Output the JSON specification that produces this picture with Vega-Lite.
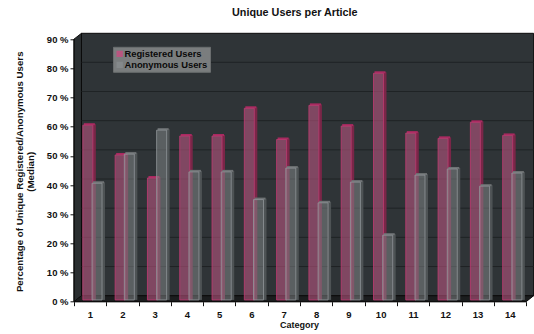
{
  "$schema": "https://vega.github.io/schema/vega-lite/v6.json",
  "width": 459.6,
  "height": 268.4,
  "autosize": "none",
  "padding": {"left": 74, "top": 33.3, "right": 0.4, "bottom": 32.3},
  "background": "white",
  "title": {"text": "Unique Users per Article", "font": "Liberation Sans", "fontSize": 10.8, "fontWeight": "bold", "color": "#111111", "anchor": "middle", "dx": -9, "offset": 14},
  "config": {"view": {"stroke": null}},
  "datasets": {
    "users": [
      {"category": 1, "series": "Registered Users", "value": 60.5},
      {"category": 2, "series": "Registered Users", "value": 50.3},
      {"category": 3, "series": "Registered Users", "value": 42.4},
      {"category": 4, "series": "Registered Users", "value": 56.8},
      {"category": 5, "series": "Registered Users", "value": 56.8},
      {"category": 6, "series": "Registered Users", "value": 66.3},
      {"category": 7, "series": "Registered Users", "value": 55.6},
      {"category": 8, "series": "Registered Users", "value": 67.3},
      {"category": 9, "series": "Registered Users", "value": 60.2},
      {"category": 10, "series": "Registered Users", "value": 78.3},
      {"category": 11, "series": "Registered Users", "value": 57.8},
      {"category": 12, "series": "Registered Users", "value": 56},
      {"category": 13, "series": "Registered Users", "value": 61.5},
      {"category": 14, "series": "Registered Users", "value": 57},
      {"category": 1, "series": "Anonymous Users", "value": 40.6},
      {"category": 2, "series": "Anonymous Users", "value": 50.6},
      {"category": 3, "series": "Anonymous Users", "value": 58.8},
      {"category": 4, "series": "Anonymous Users", "value": 44.5},
      {"category": 5, "series": "Anonymous Users", "value": 44.5},
      {"category": 6, "series": "Anonymous Users", "value": 35},
      {"category": 7, "series": "Anonymous Users", "value": 45.8},
      {"category": 8, "series": "Anonymous Users", "value": 33.9},
      {"category": 9, "series": "Anonymous Users", "value": 41},
      {"category": 10, "series": "Anonymous Users", "value": 22.8},
      {"category": 11, "series": "Anonymous Users", "value": 43.4},
      {"category": 12, "series": "Anonymous Users", "value": 45.5},
      {"category": 13, "series": "Anonymous Users", "value": 39.6},
      {"category": 14, "series": "Anonymous Users", "value": 44.1}
    ],
    "grid": [
      {"v": 10, "back": 12.05, "a": 0.5, "b": 0.732, "c": 14.732},
      {"v": 20, "back": 22.05, "a": 0.5, "b": 0.732, "c": 14.732},
      {"v": 30, "back": 32.05, "a": 0.5, "b": 0.732, "c": 14.732},
      {"v": 40, "back": 42.05, "a": 0.5, "b": 0.732, "c": 14.732},
      {"v": 50, "back": 52.05, "a": 0.5, "b": 0.732, "c": 14.732},
      {"v": 60, "back": 62.05, "a": 0.5, "b": 0.732, "c": 14.732},
      {"v": 70, "back": 72.05, "a": 0.5, "b": 0.732, "c": 14.732},
      {"v": 80, "back": 82.05, "a": 0.5, "b": 0.732, "c": 14.732}
    ]
  },
  "encoding": {
    "x": {
      "type": "quantitative",
      "scale": {"domain": [0.5, 14.732], "nice": false, "zero": false, "padding": 0},
      "axis": {
        "values": [0.5, 1.5, 2.5, 3.5, 4.5, 5.5, 6.5, 7.5, 8.5, 9.5, 10.5, 11.5, 12.5, 13.5, 14.5],
        "labelExpr": "datum.value < 14 ? toString(datum.value + 0.5) : ''",
        "labelOffset": 16,
        "labelOverlap": false,
        "labelFlush": false,
        "labelFont": "Liberation Sans",
        "labelFontSize": 9.5,
        "labelFontWeight": "bold",
        "labelColor": "#111111",
        "labelPadding": 4,
        "tickColor": "#111111",
        "tickSize": 4,
        "domain": false,
        "grid": false,
        "title": "Category",
        "titleFont": "Liberation Sans",
        "titleFontSize": 9,
        "titleFontWeight": "bold",
        "titleColor": "#111111",
        "titleX": 225,
        "titleY": 23,
        "titleBaseline": "middle"
      }
    },
    "y": {
      "type": "quantitative",
      "scale": {"domain": [0, 92], "nice": false, "zero": false},
      "axis": {
        "values": [0, 10, 20, 30, 40, 50, 60, 70, 80, 90],
        "labelExpr": "datum.value + ' %'",
        "labelOverlap": false,
        "labelFont": "Liberation Sans",
        "labelFontSize": 9.5,
        "labelFontWeight": "bold",
        "labelColor": "#111111",
        "labelPadding": 2,
        "tickColor": "#111111",
        "tickSize": 4,
        "domain": false,
        "grid": false,
        "title": ["Percentage of Unique Registered/Anonymous Users", "(Median)"],
        "titleFont": "Liberation Sans",
        "titleFontSize": 9.7,
        "titleFontWeight": "bold",
        "titleColor": "#111111",
        "titleLineHeight": 11,
        "titleX": -50,
        "titleY": 138
      }
    }
  },
  "layer": [
    {
      "description": "back wall of the chart box",
      "data": {"values": [{"x": 0.732, "low": 2.05, "high": 92}, {"x": 14.732, "low": 2.05, "high": 92}]},
      "mark": {"type": "area", "fill": "#2f3437", "stroke": "#0b0b0b", "strokeWidth": 1},
      "encoding": {
        "x": {"field": "x"},
        "y": {"field": "low"},
        "y2": {"field": "high"}
      }
    },
    {
      "description": "left side wall",
      "data": {"values": [{"x": 0.5, "low": 0, "high": 90}, {"x": 0.732, "low": 2.05, "high": 92}]},
      "mark": {"type": "area", "fill": "#2a2e30", "stroke": "#0b0b0b", "strokeWidth": 1},
      "encoding": {
        "x": {"field": "x"},
        "y": {"field": "low"},
        "y2": {"field": "high"}
      }
    },
    {
      "description": "floor",
      "data": {"values": [
        {"x": 0.5, "low": 0, "high": 0},
        {"x": 0.732, "low": 0, "high": 2.05},
        {"x": 14.5, "low": 0, "high": 2.05},
        {"x": 14.732, "low": 2.05, "high": 2.05}
      ]},
      "mark": {"type": "area", "fill": "#1b1d1e", "stroke": "#0b0b0b", "strokeWidth": 1},
      "encoding": {
        "x": {"field": "x"},
        "y": {"field": "low"},
        "y2": {"field": "high"}
      }
    },
    {
      "description": "gridlines on the back wall",
      "data": {"name": "grid"},
      "mark": {"type": "rule", "stroke": "#1f2325", "strokeWidth": 1},
      "encoding": {
        "x": {"field": "b"},
        "x2": {"field": "c"},
        "y": {"field": "back"}
      }
    },
    {
      "description": "registered users, right-hand face of each bar",
      "data": {"name": "users"},
      "transform": [{"filter": "datum.series === 'Registered Users'"}],
      "mark": {"type": "rule", "strokeWidth": 3, "xOffset": 4.2, "yOffset": -1, "stroke": "#7a2648"},
      "encoding": {"x": {"field": "category"}, "y": {"field": "value"}, "y2": {"datum": 0.6}}
    },
    {
      "description": "registered users, top face of each bar",
      "data": {"name": "users"},
      "transform": [{"filter": "datum.series === 'Registered Users'"}],
      "mark": {"type": "tick", "orient": "horizontal", "size": 11, "thickness": 2, "xOffset": -0.8, "yOffset": -1, "color": "#a82a60", "opacity": 1},
      "encoding": {"x": {"field": "category"}, "y": {"field": "value"}}
    },
    {
      "description": "registered users, front face",
      "data": {"name": "users"},
      "transform": [{"filter": "datum.series === 'Registered Users'"}],
      "mark": {"type": "bar", "size": 10, "orient": "vertical", "xOffset": -2.3, "fillOpacity": 0.6, "strokeWidth": 0.8},
      "encoding": {
        "x": {"field": "category"},
        "y": {"field": "value"},
        "y2": {"datum": 0.6},
        "fill": {"field": "series", "type": "nominal", "scale": {"domain": ["Registered Users", "Anonymous Users"], "range": ["#b8557f", "#85898b"]},
          "legend": {
            "title": null, "orient": "none", "legendX": 39, "legendY": 13.5,
            "fillColor": "#7a7d7e", "strokeColor": "#6a6d6e", "padding": 2,
            "symbolType": "square", "symbolSize": 40, "symbolOpacity": 1, "symbolStrokeWidth": 0,
            "labelFont": "Liberation Sans", "labelFontSize": 9.4, "labelFontWeight": "bold", "labelColor": "#0a0a0a",
            "labelOffset": 0, "rowPadding": 1, "clipHeight": 10
          }},
        "stroke": {"field": "series", "type": "nominal", "scale": {"domain": ["Registered Users", "Anonymous Users"], "range": ["#c23a72", "#92979a"]}, "legend": null}
      }
    },
    {
      "description": "anonymous users, right-hand face of each bar",
      "data": {"name": "users"},
      "transform": [{"filter": "datum.series === 'Anonymous Users'"}],
      "mark": {"type": "rule", "strokeWidth": 3, "xOffset": 13.4, "yOffset": -1, "stroke": "#4e5355"},
      "encoding": {"x": {"field": "category"}, "y": {"field": "value"}, "y2": {"datum": 0.6}}
    },
    {
      "description": "anonymous users, top face of each bar",
      "data": {"name": "users"},
      "transform": [{"filter": "datum.series === 'Anonymous Users'"}],
      "mark": {"type": "tick", "orient": "horizontal", "size": 11, "thickness": 2, "xOffset": 8.4, "yOffset": -1, "color": "#6f7375", "opacity": 1},
      "encoding": {"x": {"field": "category"}, "y": {"field": "value"}}
    },
    {
      "description": "anonymous users, front face",
      "data": {"name": "users"},
      "transform": [{"filter": "datum.series === 'Anonymous Users'"}],
      "mark": {"type": "bar", "size": 10, "orient": "vertical", "xOffset": 6.9, "fillOpacity": 0.5, "strokeWidth": 0.8},
      "encoding": {
        "x": {"field": "category"},
        "y": {"field": "value"},
        "y2": {"datum": 0.6},
        "fill": {"field": "series", "type": "nominal"},
        "stroke": {"field": "series", "type": "nominal"}
      }
    },
    {
      "description": "left axis line",
      "data": {"values": [{"x0": 0.5, "y0": 0, "y1": 90}]},
      "mark": {"type": "rule", "stroke": "#0b0b0b", "strokeWidth": 1},
      "encoding": {
        "x": {"field": "x0"},
        "y": {"field": "y0"},
        "y2": {"field": "y1"}
      }
    },
    {
      "description": "bottom axis line",
      "data": {"values": [{"x0": 0.5, "x1": 14.5, "y0": 0}]},
      "mark": {"type": "rule", "stroke": "#0b0b0b", "strokeWidth": 1},
      "encoding": {
        "x": {"field": "x0"},
        "x2": {"field": "x1"},
        "y": {"field": "y0"}
      }
    }
  ]
}
